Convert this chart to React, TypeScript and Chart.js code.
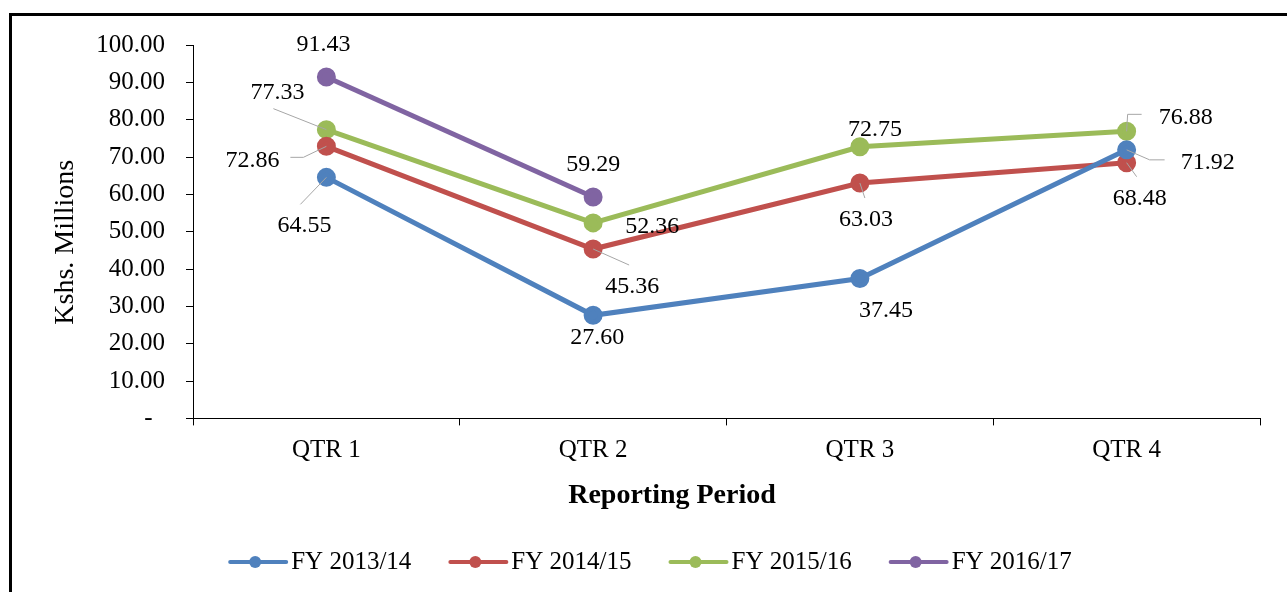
import React, { useEffect, useRef } from 'react';
import { Chart, registerables } from 'chart.js';

Chart.register(...registerables);

const FONT = "'Liberation Serif', 'Times New Roman', serif";

// ---- data ----
const CATEGORIES = ['QTR 1', 'QTR 2', 'QTR 3', 'QTR 4'];
const SERIES_NAMES = ['FY 2013/14', 'FY 2014/15', 'FY 2015/16', 'FY 2016/17'];
const FY_2013_14 = [64.55, 27.6, 37.45, 71.92];
const FY_2014_15 = [72.86, 45.36, 63.03, 68.48];
const FY_2015_16 = [77.33, 52.36, 72.75, 76.88];
const FY_2016_17 = [91.43, 59.29, null, null];
const Y_MIN = 0;
const Y_MAX = 100;
const Y_STEP = 10;
const Y_TITLE = 'Kshs. Millions';
const X_TITLE = 'Reporting Period';

// ---- styles ----
const COLORS = ['#4F81BD', '#C0504D', '#9BBB59', '#8064A2'];
// data label offsets [dx, dy] from each point (pixels)
const LABEL_OFFSETS: ([number, number] | null)[][] = [
  [[-22, 48], [4, 22], [26, 32], [81, 13]],
  [[-74, 14], [39, 38], [6, 37], [13, 36]],
  [[-49, -37], [59, 4], [15, -17], [59, -14]],
  [[-3, -32], [0, -32], null, null],
];
// leader-line polylines relative to each point
const LEADERS: (number[][] | null)[][] = [
  [[[0, 0], [-26, 27]], null, null, [[0, 0], [23, 10], [38, 10]]],
  [[[0, 0], [-23, 11], [-36, 11]], [[0, 0], [36, 16]], [[0, 0], [5, 15]], [[0, 0], [10, 14]]],
  [[[0, 0], [-53, -21]], null, null, [[0, 0], [1, -17], [15, -17]]],
  [null, null, null, null],
];
const LEGEND_CENTER_X = 638;
const LEGEND_Y = 546;

const dataLabelPlugin = {
  id: 'dataLabelsLeaders',
  afterDatasetsDraw(chart: any) {
    const ctx = chart.ctx;
    ctx.save();
    chart.data.datasets.forEach((ds: any, di: number) => {
      const meta = chart.getDatasetMeta(di);
      meta.data.forEach((pt: any, i: number) => {
        const v = ds.data[i];
        if (v === null || v === undefined) return;
        const off = LABEL_OFFSETS[di][i];
        if (!off) return;
        const leader = LEADERS[di][i];
        if (leader) {
          ctx.strokeStyle = '#A6A6A6';
          ctx.lineWidth = 1;
          ctx.beginPath();
          leader.forEach((p, k) => {
            if (k === 0) ctx.moveTo(pt.x + p[0], pt.y + p[1]);
            else ctx.lineTo(pt.x + p[0], pt.y + p[1]);
          });
          ctx.stroke();
        }
        ctx.fillStyle = '#000';
        ctx.font = `24px ${FONT}`;
        ctx.textAlign = 'center';
        ctx.textBaseline = 'middle';
        ctx.fillText(Number(v).toFixed(2), pt.x + off[0], pt.y + off[1]);
      });
    });
    ctx.restore();
  },
};

const lineLegendPlugin = {
  id: 'lineLegend',
  afterDraw(chart: any) {
    const ctx = chart.ctx;
    ctx.save();
    ctx.font = `25px ${FONT}`;
    const items = chart.data.datasets.map((ds: any) => ({
      text: ds.label,
      color: ds.borderColor,
      w: ctx.measureText(ds.label).width,
    }));
    const lineW = 60;
    const gap = 3;
    const spacing = 37;
    const total =
      items.reduce((a: number, it: any) => a + lineW + gap + it.w, 0) + spacing * (items.length - 1);
    let x = LEGEND_CENTER_X - total / 2;
    const y = LEGEND_Y;
    items.forEach((it: any) => {
      ctx.strokeStyle = it.color;
      ctx.lineWidth = 4;
      ctx.lineCap = 'round';
      ctx.beginPath();
      ctx.moveTo(x + 2, y);
      ctx.lineTo(x + lineW - 2, y);
      ctx.stroke();
      ctx.fillStyle = it.color;
      ctx.beginPath();
      ctx.arc(x + 27, y, 6, 0, Math.PI * 2);
      ctx.fill();
      ctx.fillStyle = '#000';
      ctx.textAlign = 'left';
      ctx.textBaseline = 'middle';
      ctx.fillText(it.text, x + lineW + gap, y);
      x += lineW + gap + it.w + spacing;
    });
    ctx.restore();
  },
};

export default function App() {
  const ref = useRef<HTMLCanvasElement | null>(null);

  useEffect(() => {
    if (!ref.current) return;
    Chart.defaults.font.family = FONT;
    const seriesValues = [FY_2013_14, FY_2014_15, FY_2015_16, FY_2016_17];
    const chart = new Chart(ref.current, {
      type: 'line',
      data: {
        labels: CATEGORIES,
        datasets: seriesValues.map((vals, i) => ({
          label: SERIES_NAMES[i],
          data: vals,
          borderColor: COLORS[i],
          backgroundColor: COLORS[i],
          pointBackgroundColor: COLORS[i],
          pointBorderColor: COLORS[i],
          borderWidth: 5,
          pointRadius: 7,
          pointHoverRadius: 7,
          pointStyle: 'circle',
          tension: 0,
          spanGaps: false,
          fill: false,
          yAxisID: 'y',
        })),
      },
      options: {
        responsive: false,
        animation: false,
        devicePixelRatio: 1,
        layout: { padding: { left: 20, right: 18, top: 29, bottom: 103 } },
        plugins: {
          legend: { display: false },
          tooltip: { enabled: false },
          title: {
            display: true,
            text: X_TITLE,
            position: 'bottom',
            color: '#000',
            fullSize: true,
            font: { family: FONT, size: 28, weight: 'bold' },
            padding: { top: 11, bottom: 0 },
          },
        },
        scales: {
          x: {
            type: 'category',
            offset: true,
            grid: {
              offset: true,
              drawOnChartArea: false,
              drawTicks: true,
              tickLength: 7,
              color: '#000',
            },
            border: { display: true, color: '#000', width: 1 },
            ticks: { color: '#000', font: { family: FONT, size: 25 }, padding: 10, maxRotation: 0 },
            afterFit: (s: any) => {
              s.height = 50;
            },
          },
          y: {
            type: 'linear',
            position: 'left',
            min: Y_MIN,
            max: Y_MAX,
            grid: { drawOnChartArea: false, drawTicks: true, tickLength: 7, color: '#000' },
            border: { display: true, color: '#000', width: 1 },
            ticks: {
              stepSize: Y_STEP,
              color: '#000',
              font: { family: FONT, size: 25 },
              padding: 21,
              callback: (v: any) => (Number(v) === 0 ? '-  ' : Number(v).toFixed(2)),
            },
            title: {
              display: true,
              text: Y_TITLE + '   ',
              color: '#000',
              font: { family: FONT, size: 28 },
              padding: { top: 17, bottom: 0 },
            },
            afterFit: (s: any) => {
              s.width = 161;
              s.paddingTop = 10;
              s.paddingBottom = 10;
            },
          },
          y2: {
            type: 'linear',
            position: 'right',
            display: true,
            grid: { display: false, drawTicks: false },
            border: { display: false },
            ticks: { display: false },
            afterFit: (s: any) => {
              s.width = 52;
              s.paddingTop = 0;
              s.paddingBottom = 0;
            },
          },
        },
      },
      plugins: [dataLabelPlugin, lineLegendPlugin],
    } as any);
    return () => chart.destroy();
  }, []);

  return (
    <div
      style={{
        position: 'fixed',
        left: 0,
        top: 0,
        width: 1287,
        height: 592,
        overflow: 'hidden',
        background: '#fff',
      }}
    >
      <div
        style={{
          position: 'absolute',
          left: 9,
          top: 13,
          width: 1324,
          height: 606,
          border: '3px solid #000',
          boxSizing: 'border-box',
          background: '#fff',
        }}
      >
        <canvas ref={ref} width={1318} height={600} style={{ display: 'block', width: 1318, height: 600 }} />
      </div>
    </div>
  );
}
